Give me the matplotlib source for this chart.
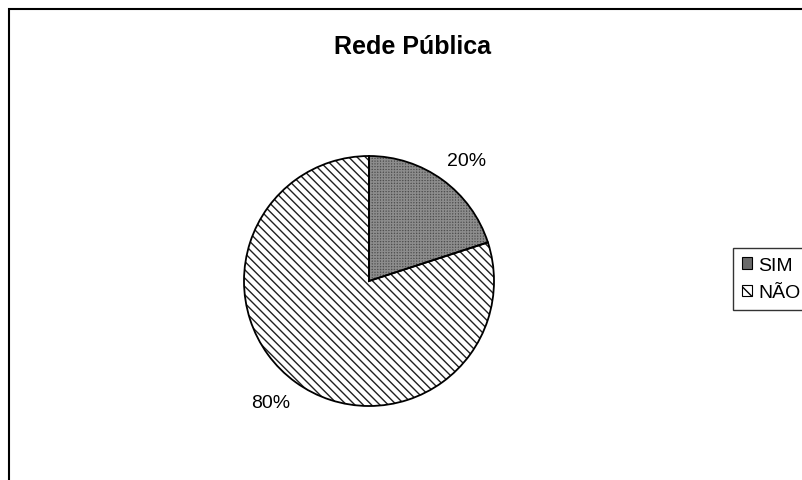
import matplotlib
matplotlib.use("Agg")
import matplotlib.pyplot as plt
import matplotlib.patches as mpatches

plt.rcParams['font.family'] = ['Liberation Sans', 'DejaVu Sans']
plt.rcParams['hatch.linewidth'] = 1.0

title = "Rede Pública"
categories = ["SIM", "NÃO"]
values = [20, 80]

W, H = 803, 481
fig = plt.figure(figsize=(W / 100, H / 100), dpi=100)

# outer chart frame (cut off at right and bottom)
fig.patches.append(mpatches.Rectangle((9 / W, -0.1), 1.2, 1.1 - 10 / H,
                                      transform=fig.transFigure, fill=False,
                                      edgecolor='black', linewidth=1.5))

fig.text(413 / W, 1 - 47 / H, title, ha='center', va='center',
         fontsize=18, fontweight='bold')

cx, cy, r = 369, 282, 125
ax = fig.add_axes([(cx - r) / W, 1 - (cy + r) / H, 2 * r / W, 2 * r / H])

faces = ['#4e4e4e', 'white']
hatch_cols = ['#8c8c8c', '#202020']
hatches = ['++++++', '\\\\\\\\']

wedges, texts, autotexts = ax.pie(values, startangle=90, counterclock=False,
                                  autopct='%1.0f%%', pctdistance=1.24,
                                  textprops={'fontsize': 14})
for w, fc, hc, h in zip(wedges, faces, hatch_cols, hatches):
    w.set_facecolor(fc)
    w.set_edgecolor(hc)
    w.set_hatch(h)
    w.set_linewidth(0)

# fine-tune percentage label placement to match the reference
autotexts[0].set_position((0.78, 0.96))
autotexts[1].set_position((-0.79, -0.97))

outline, _ = ax.pie(values, startangle=90, counterclock=False,
                    wedgeprops={'fill': False, 'edgecolor': 'black', 'linewidth': 1.3})
ax.set_xlim(-1, 1)
ax.set_ylim(-1, 1)
ax.set_aspect('equal')

leg_faces = ['#6a6a6a', 'white']
handles = [mpatches.Patch(facecolor=fc, hatch=h, edgecolor='black', linewidth=0.8)
           for fc, h in zip(leg_faces, ['', '\\\\\\'])]
leg = fig.legend(handles, categories, loc='upper left',
                 bbox_to_anchor=(733 / W, 1 - 249 / H), fontsize=14,
                 frameon=True, fancybox=False, edgecolor='black',
                 handlelength=0.55, handleheight=0.55, handletextpad=0.3,
                 borderpad=0.45, labelspacing=0.55, borderaxespad=0)
leg.get_frame().set_linewidth(1.0)

fig.savefig("out.png", dpi=100)
